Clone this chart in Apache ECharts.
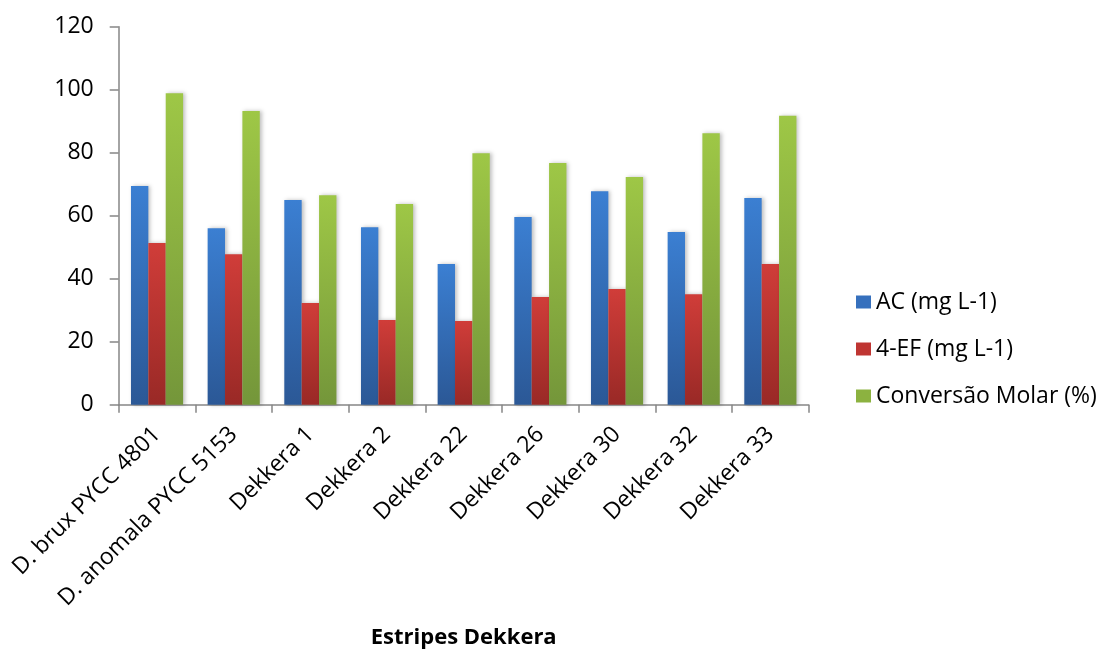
<!DOCTYPE html>
<html>
<head>
<meta charset="utf-8">
<script src="https://cdn.jsdelivr.net/npm/echarts@6/dist/echarts.min.js"></script>
<style>html,body{margin:0;padding:0;background:#fff}#c{width:1099px;height:653px}</style>
</head>
<body>
<div id="c"></div>
<script>
const categories = ['D. brux PYCC 4801','D. anomala PYCC 5153','Dekkera 1','Dekkera 2','Dekkera 22','Dekkera 26','Dekkera 30','Dekkera 32','Dekkera 33'];
const seriesNames = ['AC (mg L-1)','4-EF (mg L-1)','Conversão Molar (%)'];
const acValues = [69.4, 56.0, 65.0, 56.3, 44.7, 59.6, 67.8, 54.8, 65.6];
const efValues = [51.3, 47.8, 32.3, 26.9, 26.6, 34.2, 36.7, 35.1, 44.7];
const molarValues = [98.9, 93.2, 66.5, 63.7, 79.8, 76.7, 72.3, 86.2, 91.7];
const yTicks = [0, 20, 40, 60, 80, 100, 120];
const xAxisTitle = 'Estripes Dekkera';

const FONT = '"Open Sans", sans-serif';
function grad(top, bottom) {
  return new echarts.graphic.LinearGradient(0, 0, 0, 1, [
    {offset: 0, color: top}, {offset: 1, color: bottom}
  ]);
}
const colors = [grad('#3b7fd2', '#2b5896'), grad('#d03d39', '#992926'), grad('#9ec746', '#74963a')];
const legendColors = ['#3670bd', '#bf3532', '#8cb240'];
const dataSets = [acValues, efValues, molarValues];

const chart = echarts.init(document.getElementById('c'));
chart.setOption({
  animation: false,
  grid: {left: 118.7, top: 26.7, right: 290.3, bottom: 248.3, containLabel: false, outerBoundsMode: 'none'},
  legend: {
    orient: 'vertical',
    left: 851, top: 285,
    itemWidth: 15, itemHeight: 13, itemGap: 23,
    icon: 'rect',
    textStyle: {fontFamily: FONT, fontSize: 23, lineHeight: 24, color: '#000', padding: [0, 0, 0, 0]},
    data: seriesNames.map((n, i) => ({name: n, itemStyle: {color: legendColors[i]}}))
  },
  xAxis: {
    type: 'category',
    data: categories,
    name: xAxisTitle,
    nameLocation: 'middle',
    nameGap: 222,
    nameTextStyle: {fontFamily: FONT, fontSize: 22, fontWeight: 'bold', color: '#000'},
    axisLine: {lineStyle: {color: '#868686', width: 1.5}},
    axisTick: {show: true, length: 8, alignWithLabel: false, lineStyle: {color: '#868686', width: 1.5}},
    axisLabel: {rotate: 45, margin: 26, fontFamily: FONT, fontSize: 23, color: '#000', interval: 0},
    splitLine: {show: false}
  },
  yAxis: {
    type: 'value',
    min: yTicks[0], max: yTicks[yTicks.length - 1], interval: yTicks[1] - yTicks[0],
    axisLine: {show: true, lineStyle: {color: '#868686', width: 1.5}},
    axisTick: {show: true, length: 9, lineStyle: {color: '#868686', width: 1.5}},
    axisLabel: {margin: 25, fontFamily: FONT, fontSize: 23, color: '#000'},
    splitLine: {show: false}
  },
  series: seriesNames.map((n, i) => ({
    name: n,
    type: 'bar',
    data: dataSets[i],
    barGap: '0%',
    barCategoryGap: '32%',
    itemStyle: {color: colors[i], shadowColor: 'rgba(0,0,0,0.25)', shadowBlur: 4, shadowOffsetX: 2}
  }))
});
</script>
</body>
</html>
